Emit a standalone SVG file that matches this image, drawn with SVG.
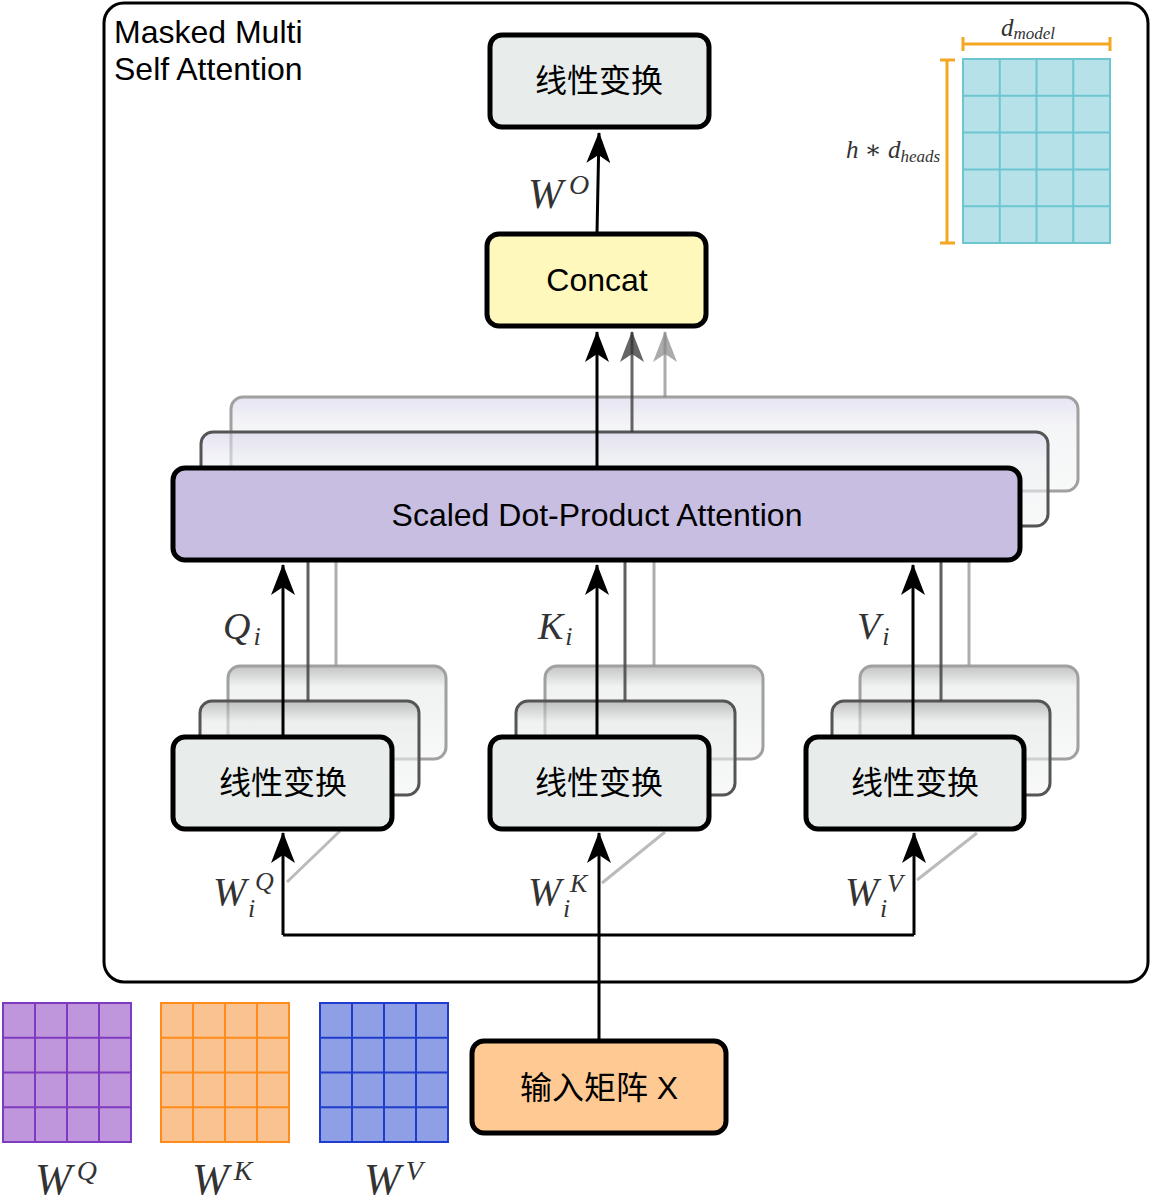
<svg xmlns="http://www.w3.org/2000/svg" width="1150" height="1204" viewBox="0 0 1150 1204">
<style>
.sans{font-family:"Liberation Sans",Arial,sans-serif;font-size:32px;fill:#000}
.cjk{font-family:"Liberation Sans","Noto Sans CJK SC",sans-serif;font-size:32px;fill:#000}
.math{font-family:"Liberation Serif","DejaVu Serif",serif;font-style:italic;fill:#333}
.box{stroke:#000;stroke-width:5}
.lin{fill:#e8edeb}
.ga{fill:url(#gA);fill-opacity:0.6}
.gl{fill:url(#gL);fill-opacity:0.6}
.mid{stroke:#555;stroke-width:3}
.back{stroke:#a0a0a0;stroke-width:3}
.arr{fill:none;stroke:#000;stroke-width:3}
.grid{fill:none}
</style>
<defs>
<marker id="ah" markerUnits="userSpaceOnUse" markerWidth="32" markerHeight="24" refX="30" refY="12" orient="auto" viewBox="0 0 32 24"><path d="M0,0 L31,12 L0,24 L8,12 z" fill="#000"/></marker>
<marker id="ahd" markerUnits="userSpaceOnUse" markerWidth="32" markerHeight="24" refX="30" refY="12" orient="auto" viewBox="0 0 32 24"><path d="M0,0 L31,12 L0,24 L8,12 z" fill="#333" fill-opacity="0.75"/></marker>
<marker id="ahl" markerUnits="userSpaceOnUse" markerWidth="32" markerHeight="24" refX="30" refY="12" orient="auto" viewBox="0 0 32 24"><path d="M0,0 L31,12 L0,24 L8,12 z" fill="#888" fill-opacity="0.7"/></marker>
<linearGradient id="gA" x1="0" y1="0" x2="0" y2="1"><stop offset="0" stop-color="#d6d2ea"/><stop offset="0.3" stop-color="#eceef2"/><stop offset="1" stop-color="#f3f6f5"/></linearGradient>
<linearGradient id="gL" x1="0" y1="0" x2="0" y2="1"><stop offset="0" stop-color="#9c9c9c"/><stop offset="0.22" stop-color="#e6eae9"/><stop offset="1" stop-color="#f3f5f4"/></linearGradient>
</defs>

<g id="container">
<rect x="104" y="3" width="1044" height="979" rx="20" fill="#fff" stroke="#000" stroke-width="3"/>
<text class="sans" x="114" y="43">Masked Multi</text>
<text class="sans" x="114" y="80">Self Attention</text>
</g>

<g id="dim-matrix">
<rect x="963" y="59" width="147" height="184" fill="#b7e1e8"/>
<path class="grid" stroke="#6cc5d0" stroke-width="2" d="M963,59H1110V243H963Z M999.75,59V243 M1036.5,59V243 M1073.25,59V243 M963,95.8H1110 M963,132.6H1110 M963,169.4H1110 M963,206.2H1110"/>
<path fill="none" stroke="#f5a623" stroke-width="3" d="M963,44H1110 M963,37V51 M1110,37V51 M947,60V243 M940,60H955 M940,243H955"/>
<text class="math" x="1001" y="36" font-size="25">d<tspan font-size="17" dy="3">model</tspan></text>
<text class="math" x="846" y="158" font-size="25">h ∗ d<tspan font-size="17" dy="4">heads</tspan></text>
</g>

<g id="sdpa-back">
<rect class="ga back" x="231" y="397" width="847" height="94" rx="12"/>
</g>
<g id="sdpa-mid">
<rect class="ga mid" x="201" y="432" width="847" height="94" rx="12"/>
</g>

<g id="linear-q-ghost">
<rect class="gl back" x="228" y="666" width="218" height="93" rx="12"/>
<rect class="gl mid" x="200" y="701" width="219" height="94" rx="12"/>
</g>
<g id="linear-k-ghost">
<rect class="gl back" x="545" y="666" width="218" height="93" rx="12"/>
<rect class="gl mid" x="516" y="701" width="219" height="94" rx="12"/>
</g>
<g id="linear-v-ghost">
<rect class="gl back" x="860" y="666" width="218" height="93" rx="12"/>
<rect class="gl mid" x="832" y="701" width="218" height="94" rx="12"/>
</g>

<g id="connectors">
<path class="arr" d="M597,233 L599,133" marker-end="url(#ah)"/>
<path class="arr" d="M597,467 V332" marker-end="url(#ah)"/>
<path d="M632,432 V332" fill="none" stroke="#333" stroke-opacity="0.75" stroke-width="3" marker-end="url(#ahd)"/>
<path d="M665,397 V332" fill="none" stroke="#888" stroke-opacity="0.7" stroke-width="3" marker-end="url(#ahl)"/>
<path d="M308,701 V561 M625,701 V561 M941,701 V561" fill="none" stroke="#444" stroke-opacity="0.85" stroke-width="3"/>
<path d="M336,666 V561 M654,666 V561 M969,666 V561" fill="none" stroke="#999" stroke-opacity="0.8" stroke-width="3"/>
<path d="M287,882 L340,831 M602,883 L665,832 M917,880 L977,833" fill="none" stroke="#bbb" stroke-width="3"/>
<path class="arr" d="M599,1040 V935 M283,935 H914"/>
</g>

<g id="sdpa">
<rect class="box" x="173" y="468" width="847" height="92" rx="12" fill="#c7bee2"/>
<text class="sans" x="597" y="526" text-anchor="middle" font-size="32.5">Scaled Dot-Product Attention</text>
</g>

<g id="linear-top">
<rect class="box lin" x="490" y="35" width="219" height="92" rx="12"/>
<text class="cjk" x="599" y="92" text-anchor="middle">线性变换</text>
</g>

<g id="concat">
<rect class="box" x="487" y="234" width="219" height="92" rx="12" fill="#fff8bd"/>
<text class="sans" x="597" y="291" text-anchor="middle">Concat</text>
</g>

<g id="linear-q">
<rect class="box lin" x="173" y="737" width="219" height="92" rx="12"/>
<text class="cjk" x="283" y="794" text-anchor="middle">线性变换</text>
</g>
<g id="linear-k">
<rect class="box lin" x="490" y="737" width="219" height="92" rx="12"/>
<text class="cjk" x="599" y="794" text-anchor="middle">线性变换</text>
</g>
<g id="linear-v">
<rect class="box lin" x="806" y="737" width="218" height="92" rx="12"/>
<text class="cjk" x="915" y="794" text-anchor="middle">线性变换</text>
</g>

<g id="connectors-front">
<path class="arr" d="M283,737 V565" marker-end="url(#ah)"/>
<path class="arr" d="M597,737 V565" marker-end="url(#ah)"/>
<path class="arr" d="M913,737 V565" marker-end="url(#ah)"/>
<path class="arr" d="M283,935 V833" marker-end="url(#ah)"/>
<path class="arr" d="M599,935 V833" marker-end="url(#ah)"/>
<path class="arr" d="M914,935 V833" marker-end="url(#ah)"/>
</g>

<g id="labels">
<text class="math" x="528" y="208" font-size="42">W<tspan font-size="28" dx="6" dy="-14">O</tspan></text>
<text class="math" x="223" y="639" font-size="38">Q<tspan font-size="26" dx="3" dy="6">i</tspan></text>
<text class="math" x="538" y="639" font-size="38">K<tspan font-size="26" dx="2" dy="6">i</tspan></text>
<text class="math" x="857" y="639" font-size="38">V<tspan font-size="26" dx="2" dy="6">i</tspan></text>
<text class="math" font-size="40"><tspan x="213" y="905">W</tspan><tspan x="255" y="890" font-size="26">Q</tspan><tspan x="248" y="917" font-size="26">i</tspan></text>
<text class="math" font-size="40"><tspan x="528" y="905">W</tspan><tspan x="570" y="892" font-size="26">K</tspan><tspan x="563" y="917" font-size="26">i</tspan></text>
<text class="math" font-size="40"><tspan x="845" y="905">W</tspan><tspan x="887" y="892" font-size="26">V</tspan><tspan x="880" y="917" font-size="26">i</tspan></text>
</g>

<g id="input">
<rect class="box" x="472" y="1041" width="254" height="92" rx="12" fill="#ffc994"/>
<text class="cjk" x="599" y="1099" text-anchor="middle">输入矩阵 X</text>
</g>

<g id="wq">
<rect x="3" y="1003" width="128" height="139" fill="#bf96dc"/>
<path class="grid" stroke="#7f3bbf" stroke-width="2" d="M3,1003H131V1142H3Z M35,1003V1142 M67,1003V1142 M99,1003V1142 M3,1037.75H131 M3,1072.5H131 M3,1107.25H131"/>
<text class="math" x="35" y="1194" font-size="44">W<tspan font-size="28" dx="5" dy="-14">Q</tspan></text>
</g>
<g id="wk">
<rect x="161" y="1003" width="128" height="139" fill="#f9c291"/>
<path class="grid" stroke="#ff8c1a" stroke-width="2" d="M161,1003H289V1142H161Z M193,1003V1142 M225,1003V1142 M257,1003V1142 M161,1037.75H289 M161,1072.5H289 M161,1107.25H289"/>
<text class="math" x="192" y="1194" font-size="44">W<tspan font-size="28" dx="5" dy="-14">K</tspan></text>
</g>
<g id="wv">
<rect x="320" y="1003" width="128" height="139" fill="#8f9fe6"/>
<path class="grid" stroke="#1f3ccc" stroke-width="2" d="M320,1003H448V1142H320Z M352,1003V1142 M384,1003V1142 M416,1003V1142 M320,1037.75H448 M320,1072.5H448 M320,1107.25H448"/>
<text class="math" x="364" y="1194" font-size="44">W<tspan font-size="28" dx="5" dy="-14">V</tspan></text>
</g>
</svg>
